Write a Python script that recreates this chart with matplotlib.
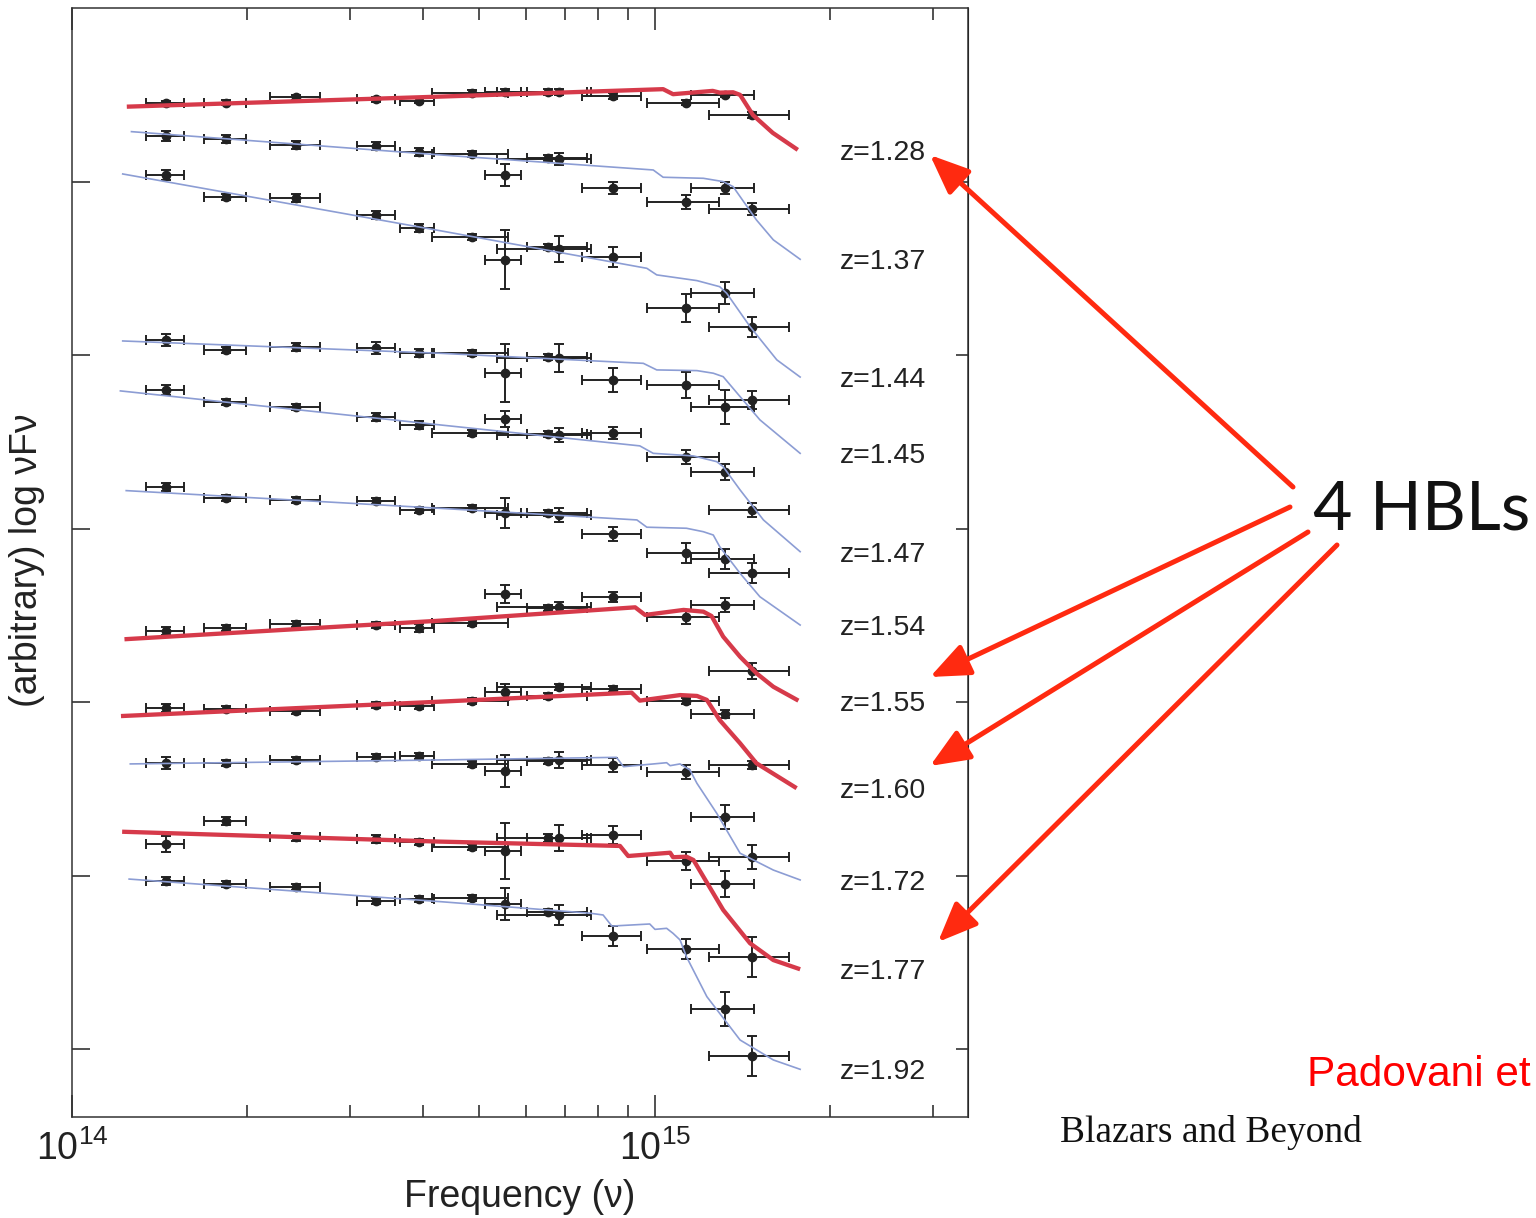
import matplotlib
matplotlib.use("Agg")
import matplotlib.pyplot as plt
from matplotlib.ticker import NullFormatter, LogLocator
from matplotlib.patches import FancyArrowPatch
import numpy as np

plt.rcParams['font.family'] = ['Liberation Sans', 'DejaVu Sans']

# filter bands: centre and edges (Hz)
band_nu = [1.449e14, 1.837e14, 2.423e14, 3.322e14, 3.938e14, 4.855e14, 5.529e14,
           6.554e14, 6.845e14, 8.472e14, 1.130e15, 1.319e15, 1.467e15]
band_lo = [1.339e14, 1.684e14, 2.186e14, 3.083e14, 3.653e14, 4.145e14, 5.110e14,
           6.031e14, 5.358e14, 7.495e14, 9.689e14, 1.153e15, 1.238e15]
band_hi = [1.556e14, 1.988e14, 2.663e14, 3.581e14, 4.178e14, 5.596e14, 5.891e14,
           7.644e14, 7.765e14, 9.462e14, 1.288e15, 1.478e15, 1.698e15]

redshifts = ["z=1.28", "z=1.37", "z=1.44", "z=1.45", "z=1.47", "z=1.54",
             "z=1.55", "z=1.60", "z=1.72", "z=1.77", "z=1.92"]
is_hbl = [True, False, False, False, False, False, True, True, False, True, False]

# log nuFnu (arbitrary, shifted) per source, one value per band
flux = [
    [5.454, 5.457, 5.488, 5.477, 5.469, 5.513, 5.519, 5.519, 5.519, 5.496, 5.456, 5.503, 5.386],
    [5.265, 5.248, 5.213, 5.209, 5.173, 5.162, 5.040, 5.140, 5.133, 4.967, 4.886, 4.964, 4.844],
    [5.039, 4.915, 4.906, 4.811, 4.737, 4.681, 4.550, 4.627, 4.612, 4.569, 4.272, 4.358, 4.166],
    [4.089, 4.031, 4.050, 4.041, 4.012, 4.016, 3.897, 3.989, 3.983, 3.858, 3.828, 3.701, 3.743],
    [3.801, 3.733, 3.701, 3.643, 3.600, 3.551, 3.633, 3.547, 3.541, 3.551, 3.412, 3.326, 3.108],
    [3.243, 3.176, 3.166, 3.160, 3.108, 3.118, 3.089, 3.093, 3.080, 2.968, 2.859, 2.826, 2.743],
    [2.412, 2.426, 2.451, 2.445, 2.430, 2.455, 2.622, 2.542, 2.547, 2.608, 2.490, 2.559, 2.182],
    [1.967, 1.959, 1.951, 1.984, 1.978, 2.009, 2.061, 2.038, 2.086, 2.078, 2.009, 1.930, 1.638],
    [1.651, 1.648, 1.667, 1.686, 1.692, 1.644, 1.605, 1.661, 1.667, 1.638, 1.599, 1.340, 1.109],
    [1.182, 1.317, 1.224, 1.209, 1.196, 1.167, 1.144, 1.215, 1.215, 1.234, 1.084, 0.950, 0.532],
    [0.971, 0.952, 0.933, 0.855, 0.863, 0.873, 0.836, 0.792, 0.773, 0.652, 0.575, 0.229, -0.040],
]
flux_err = [
    [0.015, 0.015, 0.015, 0.015, 0.015, 0.015, 0.015, 0.015, 0.015, 0.015, 0.015, 0.015, 0.02],
    [0.029, 0.023, 0.023, 0.023, 0.023, 0.017, 0.061, 0.017, 0.035, 0.035, 0.040, 0.035, 0.035],
    [0.029, 0.017, 0.023, 0.023, 0.023, 0.017, 0.170, 0.017, 0.075, 0.058, 0.081, 0.063, 0.058],
    [0.035, 0.017, 0.023, 0.035, 0.023, 0.017, 0.166, 0.017, 0.081, 0.069, 0.075, 0.098, 0.052],
    [0.029, 0.017, 0.017, 0.023, 0.023, 0.017, 0.046, 0.017, 0.040, 0.035, 0.040, 0.046, 0.040],
    [0.023, 0.017, 0.017, 0.017, 0.017, 0.017, 0.087, 0.017, 0.040, 0.040, 0.058, 0.058, 0.058],
    [0.023, 0.017, 0.017, 0.017, 0.023, 0.017, 0.052, 0.017, 0.029, 0.029, 0.040, 0.040, 0.046],
    [0.023, 0.017, 0.017, 0.017, 0.017, 0.017, 0.046, 0.017, 0.017, 0.017, 0.017, 0.023, 0.023],
    [0.035, 0.017, 0.017, 0.017, 0.017, 0.017, 0.092, 0.017, 0.046, 0.040, 0.040, 0.069, 0.069],
    [0.046, 0.023, 0.023, 0.023, 0.017, 0.017, 0.161, 0.023, 0.075, 0.052, 0.052, 0.075, 0.115],
    [0.023, 0.017, 0.017, 0.017, 0.017, 0.017, 0.092, 0.017, 0.058, 0.058, 0.058, 0.098, 0.115],
]

# model curves (log nu, log nuFnu)
model_lognu = [
    [14.094, 14.631, 15.014, 15.031, 15.099, 15.111, 15.134, 15.146, 15.168, 15.202, 15.245],
    [14.102, 14.631, 14.997, 15.014, 15.083, 15.117, 15.134, 15.174, 15.203, 15.249],
    [14.087, 14.631, 14.986, 15.003, 15.072, 15.111, 15.123, 15.163, 15.209, 15.249],
    [14.087, 14.631, 14.980, 15.003, 15.072, 15.100, 15.117, 15.146, 15.180, 15.249],
    [14.083, 14.631, 14.974, 14.997, 15.066, 15.106, 15.117, 15.146, 15.186, 15.249],
    [14.093, 14.631, 14.969, 14.986, 15.054, 15.083, 15.100, 15.111, 15.146, 15.180, 15.249],
    [14.090, 14.631, 14.966, 14.983, 15.049, 15.083, 15.097, 15.117, 15.146, 15.174, 15.203, 15.246],
    [14.084, 14.631, 14.960, 14.974, 15.043, 15.072, 15.089, 15.111, 15.146, 15.174, 15.243],
    [14.100, 14.631, 14.934, 14.946, 15.020, 15.026, 15.043, 15.060, 15.072, 15.106, 15.146, 15.203, 15.249],
    [14.086, 14.631, 14.940, 14.954, 15.026, 15.031, 15.054, 15.066, 15.083, 15.117, 15.163, 15.203, 15.249],
    [14.098, 14.631, 14.889, 14.911, 14.926, 14.991, 15.000, 15.020, 15.031, 15.043, 15.054, 15.089,
     15.146, 15.203, 15.249],
]
model_flux = [
    [5.434, 5.492, 5.535, 5.506, 5.525, 5.515, 5.517, 5.502, 5.386, 5.283, 5.185],
    [5.290, 5.156, 5.069, 5.027, 5.021, 5.002, 4.973, 4.781, 4.666, 4.554],
    [5.046, 4.719, 4.502, 4.464, 4.431, 4.396, 4.358, 4.166, 3.974, 3.875],
    [4.083, 4.012, 3.954, 3.916, 3.912, 3.897, 3.877, 3.762, 3.628, 3.435],
    [3.795, 3.599, 3.478, 3.435, 3.420, 3.387, 3.358, 3.224, 3.051, 2.868],
    [3.220, 3.118, 3.051, 3.009, 3.003, 2.983, 2.964, 2.897, 2.743, 2.608, 2.445],
    [2.363, 2.470, 2.547, 2.503, 2.532, 2.522, 2.497, 2.378, 2.262, 2.167, 2.089, 2.009],
    [1.920, 2.003, 2.055, 2.009, 2.041, 2.036, 2.013, 1.897, 1.763, 1.648, 1.504],
    [1.644, 1.667, 1.682, 1.628, 1.651, 1.634, 1.644, 1.609, 1.532, 1.359, 1.129, 1.032, 0.975],
    [1.253, 1.196, 1.171, 1.113, 1.132, 1.106, 1.109, 1.090, 0.994, 0.802, 0.610, 0.513, 0.460],
    [0.980, 0.850, 0.783, 0.773, 0.709, 0.721, 0.690, 0.696, 0.667, 0.629, 0.532, 0.302, 0.052,
     -0.063, -0.117],
]

red = '#d63a4a'
blue = '#8c9dd4'
ink = '#222222'

fig = plt.figure(figsize=(15.36, 12.18), dpi=100)
ax = fig.add_axes([72/1536, 1 - 1117/1218, 896/1536, 1109/1218])

nu = np.array(band_nu)
xerr = [nu - np.array(band_lo), np.array(band_hi) - nu]

for i in range(len(redshifts)):
    ax.errorbar(nu, flux[i], yerr=flux_err[i], xerr=xerr, fmt='o', ms=6,
                color=ink, ecolor=ink, elinewidth=1.4, capsize=3.4, capthick=1.4, zorder=2)
    mx = 10 ** np.array(model_lognu[i])
    if is_hbl[i]:
        ax.plot(mx, model_flux[i], color=red, lw=3.1, zorder=3,
                solid_joinstyle='round', solid_capstyle='butt')
    else:
        ax.plot(mx, model_flux[i], color=blue, lw=1.2, zorder=3)
    ax.text(2.075e15, model_flux[i][-1] - 0.018, redshifts[i], fontsize=20.5,
            color=ink, ha='left', va='center')

ax.set_xscale('log')
ax.set_xlim(1e14, 3.443e15)
ax.set_ylim(-0.392, 6.003)
ax.set_yticks([0, 1, 2, 3, 4, 5])
ax.set_yticklabels([])
ax.xaxis.set_major_locator(LogLocator(base=10, numticks=10))
ax.xaxis.set_minor_locator(LogLocator(base=10, subs=np.arange(2, 10), numticks=20))
ax.xaxis.set_minor_formatter(NullFormatter())
ax.tick_params(axis='x', which='major', direction='in', length=16, width=1.1,
               top=True, labelsize=27, pad=10, colors=ink)
ax.tick_params(axis='x', which='minor', direction='in', length=8.5, width=1.1, top=True, colors=ink)
ax.tick_params(axis='y', which='major', direction='in', length=13, width=1.1, colors=ink)
for s in ax.spines.values():
    s.set_color('#333333')
    s.set_linewidth(1.1)

sec = ax.secondary_yaxis('right')
sec.set_yticks([0, 1, 2, 3, 4, 5])
sec.set_yticklabels([])
sec.tick_params(direction='in', length=9, width=1.1, colors=ink)

ax.set_xlabel('Frequency (ν)', fontsize=27, color=ink, va='top')
ax.xaxis.set_label_coords(0.5, -0.056)
ax.set_ylabel('(arbitrary) log νFν', fontsize=27, color=ink)
ax.yaxis.set_label_coords(-0.030, 0.502)

# annotation outside the plot
fig.text(1313/1536, 1 - 510/1218, '4 HBLs', fontsize=49, family=['Lato', 'DejaVu Sans'],
         color='#111111', ha='left', va='center')
arrows = [((1293, 487), (930, 155)), ((1290, 507), (930, 677)),
          ((1308, 532), (930, 766)), ((1337, 545), (938, 942))]
for tail, head in arrows:
    a = FancyArrowPatch((tail[0]/1536, 1 - tail[1]/1218), (head[0]/1536, 1 - head[1]/1218),
                        transform=fig.transFigure,
                        arrowstyle='-|>,head_length=1.2,head_width=0.5', mutation_scale=20,
                        lw=3.6, color='#ff2a10', shrinkA=0, shrinkB=0)
    fig.add_artist(a)

fig.text(1307/1536, 1 - 1075/1218, 'Padovani et', fontsize=30.5, color='#ff0000',
         ha='left', va='center')
fig.text(1060/1536, 1 - 1132/1218, 'Blazars and Beyond', fontsize=27,
         family=['Liberation Serif', 'DejaVu Serif'], color='#111111', ha='left', va='center')

fig.savefig('out.png', dpi=100)
